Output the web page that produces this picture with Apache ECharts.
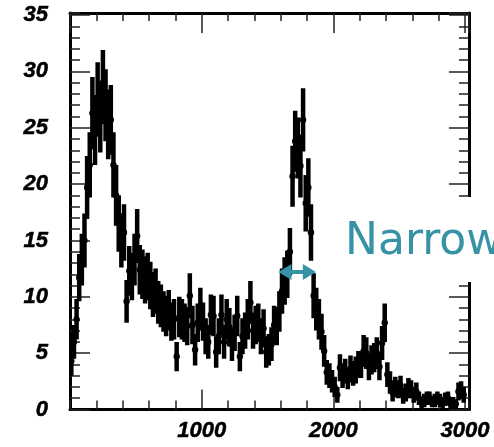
<!DOCTYPE html>
<html>
<head>
<meta charset="utf-8">
<script src="https://cdn.jsdelivr.net/npm/echarts@6/dist/echarts.min.js"></script>
<style>
  html, body { margin: 0; padding: 0; background: #fff; }
  #chart { width: 494px; height: 447px; }
</style>
</head>
<body>
<div id="chart"></div>
<script>
// histogram bins: 20 wide, starting at 0
const binStart = 0;
const binWidth = 20;

// bin contents (150 bins, 0..3000)
const counts = [
  4.3, 6.0, 8.0, 11.7, 13.3, 15.0, 19.7, 21.7, 26.3, 24.8,
  27.5, 26.0, 28.6, 27.0, 25.3, 25.7, 21.7, 19.0, 16.5, 15.0,
  15.7, 9.6, 12.3, 11.8, 13.3, 15.4, 12.4, 12.0, 11.5, 11.8,
  11.0, 10.2, 10.5, 9.5, 9.2, 8.7, 8.3, 8.8, 7.8, 8.0,
  4.7, 8.2, 8.0, 7.7, 7.4, 10.1, 7.5, 5.3, 7.7, 8.9,
  7.8, 6.5, 6.0, 8.4, 8.3, 5.1, 6.5, 8.4, 6.0, 8.0,
  7.3, 5.8, 6.8, 8.3, 4.7, 6.5, 7.0, 8.0, 9.5, 7.0,
  7.5, 7.7, 6.5, 7.2, 5.1, 5.3, 5.8, 7.5, 7.4, 8.7,
  10.5, 11.4, 12.0, 14.0, 20.7, 23.8, 23.2, 21.6, 25.7, 18.3,
  19.7, 15.7, 10.1, 8.9, 8.0, 6.9, 5.2, 3.3, 3.0, 2.5,
  2.0, 1.3, 3.7, 3.0, 3.4, 2.8, 3.6, 3.2, 3.5, 4.0,
  4.0, 5.2, 5.0, 3.8, 4.4, 4.6, 5.0, 3.8, 5.9, 7.7,
  3.1, 2.4, 1.5, 2.0, 1.8, 2.1, 1.2, 1.5, 1.9, 1.8,
  1.3, 1.6, 1.0, 0.6, 0.8, 1.0, 1.0, 0.7, 0.8, 1.0,
  0.8, 0.6, 0.9, 1.0, 0.5, 0.6, 0.5, 1.6, 1.7, 1.3
];

// half length of each error bar
const errors = [
  1.3, 1.5, 1.8, 2.1, 2.3, 2.4, 2.8, 2.9, 3.2, 3.1,
  3.3, 3.2, 3.3, 3.2, 3.1, 3.1, 2.9, 2.7, 2.5, 2.4,
  2.5, 1.9, 2.2, 2.1, 2.3, 2.4, 2.2, 2.2, 2.1, 2.1,
  2.1, 2.0, 2.0, 1.9, 1.9, 1.8, 1.8, 1.8, 1.7, 1.8,
  1.3, 1.8, 1.8, 1.7, 1.7, 2.0, 1.7, 1.4, 1.7, 1.9,
  1.7, 1.6, 1.5, 1.8, 1.8, 1.4, 1.6, 1.8, 1.5, 1.8,
  1.7, 1.5, 1.6, 1.8, 1.3, 1.6, 1.6, 1.8, 1.9, 1.6,
  1.7, 1.7, 1.6, 1.7, 1.4, 1.4, 1.5, 1.7, 1.7, 1.8,
  2.0, 2.1, 2.1, 2.1, 2.7, 2.7, 2.7, 2.8, 2.8, 2.5,
  2.6, 2.5, 2.0, 1.9, 1.8, 1.6, 1.4, 1.1, 1.1, 1.0,
  0.9, 0.7, 1.2, 1.1, 1.1, 1.0, 1.2, 1.1, 1.2, 1.2,
  1.2, 1.4, 1.4, 1.2, 1.3, 1.3, 1.4, 1.2, 1.5, 1.7,
  1.1, 1.0, 0.8, 0.9, 0.8, 0.9, 0.7, 0.8, 0.9, 0.8,
  0.7, 0.8, 0.6, 0.5, 0.6, 0.6, 0.6, 0.5, 0.6, 0.6,
  0.6, 0.5, 0.6, 0.6, 0.4, 0.5, 0.4, 0.8, 0.8, 0.7
];

// axis ranges and tick steps
const xRange = [0, 3030];
const yRange = [0, 35.18];
const xMajor = 1000, xMinor = 200;
const yMajor = 5, yMinor = 1;

// "Narrow" width arrow (data coords of both ends)
const arrowFrom = [1632, 12.2];
const arrowTo = [1818, 12.2];

const teal = '#3792a6';
const labelFont = {
  color: '#000',
  fontFamily: 'Liberation Sans',
  fontWeight: 'bold',
  fontStyle: 'italic',
  fontSize: 22,
  textBorderColor: '#000',
  textBorderWidth: 0.5
};

// only whole multiples of the major step get a label
function tickText(step) {
  return v => (Math.abs(v / step - Math.round(v / step)) < 1e-6 ? String(Math.round(v)) : '');
}

function axis(dir, pos, step, len, labeled, line) {
  const range = dir === 'x' ? xRange : yRange;
  const major = dir === 'x' ? xMajor : yMajor;
  return {
    type: 'value', position: pos, min: range[0], max: range[1], interval: step,
    splitLine: { show: false },
    axisLine: { show: line, onZero: false, lineStyle: { color: '#000', width: 3 } },
    axisTick: { show: true, inside: true, length: len, lineStyle: { color: '#222', width: 1.5 } },
    axisLabel: labeled ? Object.assign({
      show: true,
      margin: dir === 'x' ? 10 : 22,
      showMinLabel: dir === 'y',
      showMaxLabel: false,
      formatter: tickText(major)
    }, labelFont) : { show: false }
  };
}

const points = counts.map((v, i) => [binStart + binWidth * (i + 0.5), v, errors[i]]);

const chart = echarts.init(document.getElementById('chart'));
chart.setOption({
  animation: false,
  backgroundColor: '#fff',
  grid: { left: 70, right: 25, top: 13, bottom: 37.5, containLabel: false, outerBoundsMode: 'none' },
  xAxis: [
    axis('x', 'bottom', xMajor, 20, true, true),
    axis('x', 'bottom', xMinor, 9, false, false),
    axis('x', 'top', xMajor, 20, false, true),
    axis('x', 'top', xMinor, 8, false, false)
  ],
  yAxis: [
    axis('y', 'left', yMajor, 20, true, true),
    axis('y', 'left', yMinor, 10, false, false),
    axis('y', 'right', yMajor, 20, false, true),
    axis('y', 'right', yMinor, 10, false, false)
  ],
  series: [
    {
      type: 'custom',
      clip: true,
      xAxisIndex: 0,
      yAxisIndex: 0,
      data: points,
      renderItem: function (params, api) {
        const x = api.value(0), y = api.value(1), e = api.value(2);
        const top = api.coord([x, y + e]);
        const bot = api.coord([x, y - e]);
        const c = api.coord([x, y]);
        return {
          type: 'group',
          children: [
            { type: 'line', shape: { x1: top[0], y1: top[1], x2: bot[0], y2: bot[1] },
              style: { stroke: '#000', lineWidth: 4.5 } },
            { type: 'circle', shape: { cx: c[0], cy: c[1], r: 3.2 }, style: { fill: '#000' } }
          ]
        };
      }
    },
    {
      type: 'scatter',
      data: [],
      xAxisIndex: 0,
      yAxisIndex: 0,
      markLine: {
        silent: true,
        symbol: ['triangle', 'triangle'],
        symbolSize: [16, 13],
        label: { show: false },
        lineStyle: { color: teal, width: 4, type: 'solid' },
        emphasis: { disabled: true },
        data: [[{ coord: arrowFrom }, { coord: arrowTo }]]
      }
    }
  ],
  graphic: [
    { type: 'rect', z: 50, shape: { x: 335, y: 197, width: 160, height: 85 }, style: { fill: '#fff' } },
    { type: 'text', z: 51, x: 345, y: 243,
      style: { text: 'Narrow', font: '44px "DejaVu Sans"', fill: teal, verticalAlign: 'middle' } }
  ]
});
</script>
</body>
</html>
